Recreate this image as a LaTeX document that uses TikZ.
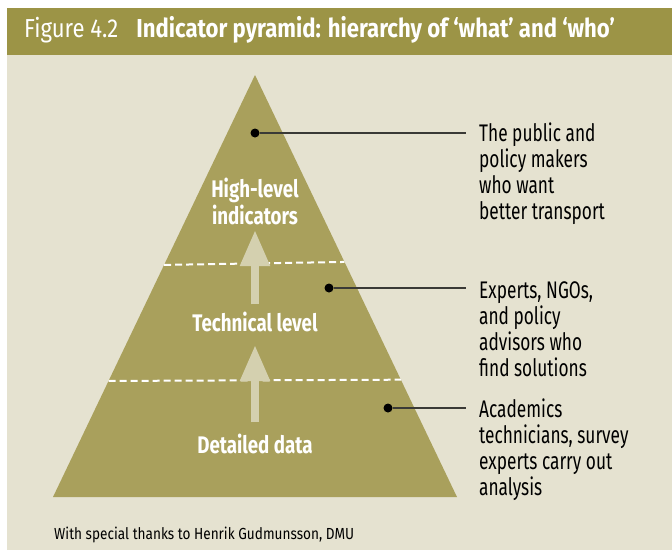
\documentclass[tikz,border=0pt]{standalone}
\usepackage{fontspec}
\setmainfont[FakeStretch=0.72]{Fira Sans}
\newfontfamily\levelfont[FakeStretch=0.78]{Fira Sans}
\newfontfamily\titlefont[FakeStretch=0.85]{Fira Sans}
\usetikzlibrary{arrows.meta,positioning,calc}
\definecolor{Olive}{HTML}{9C9446}
\definecolor{Sand}{HTML}{E5E2D0}
\definecolor{Pyramid}{HTML}{A9A05C}
\definecolor{Pale}{HTML}{D4D0AF}
\definecolor{Leader}{HTML}{3A3A36}
\tikzset{
  level/.style={
    font=\levelfont\fontsize{24}{27}\selectfont\bfseries,text=white,
    align=center,inner sep=0pt,anchor=base
  },
  who/.style={
    font=\fontsize{24}{26}\selectfont,text=black,
    align=left,inner sep=0pt,anchor=base west
  },
  spot/.style={circle,fill=black,inner sep=0pt,minimum size=9pt},
  leader/.style={draw=Leader,line width=1.8pt,shorten >=13pt},
  divide/.style={draw=white,line width=2pt,dash pattern=on 7pt off 4pt},
  rise/.style={-{Triangle[length=36pt,width=28pt]},draw=Pale,line width=8pt}
}

\begin{document}
\begin{tikzpicture}[x=1pt,y=-1pt]
  \useasboundingbox (0,0) rectangle (672,550);
  \fill[white] (0,0) rectangle (672,550);
  % header band and panel
  \fill[Olive] (7,8) rectangle (672,55);
  \fill[Sand] (7,55) rectangle (672,550);
  \node[inner sep=0pt,anchor=base west,text=white,font=\titlefont\fontsize{26}{28}\selectfont]
    (title) at (24,37) {Figure 4.2\hspace*{18pt}\textbf{Indicator pyramid: hierarchy of ‘what’ and ‘who’}};

  % pyramid
  \coordinate (apex) at (255,75);
  \coordinate (baseL) at (53,497);
  \coordinate (baseR) at (457,497);
  \fill[Pyramid] (apex) -- (baseR) -- (baseL) -- cycle;
  \draw[divide] ($(apex)!0.450!(baseL)$) -- ($(apex)!0.443!(baseR)$);
  \draw[divide] ($(apex)!0.725!(baseL)$) -- ($(apex)!0.722!(baseR)$);

  % levels (multi-line nodes sit on their last line)
  \node[level] (high) at (255,224) {High-level\\indicators};
  \node[level] (technical) at (255,331) {Technical level};
  \node[level] (detailed) at (255,453) {Detailed data};
  \draw[rise] ([yshift=11pt]detailed.north) -- ([yshift=-14pt]technical.base);
  \draw[rise] ([yshift=7pt]technical.north) -- ([yshift=-6pt]high.base);

  % who works at each level
  \node[spot] (dotPublic) at (255,133) {};
  \node[spot] (dotExperts) at (329,288) {};
  \node[spot] (dotAcademics) at (388,408) {};
  \node[who] (public) at (479,219) {The public and\\policy makers\\who want\\better transport};
  \node[who] (experts) at (479,376) {Experts, NGOs,\\and policy\\advisors who\\find solutions};
  \node[who] (academics) at (479,495) {Academics\\technicians, survey\\experts carry out\\analysis};
  \draw[leader] (dotPublic) -- (dotPublic -| public.west);
  \draw[leader] (dotExperts) -- (dotExperts -| experts.west);
  \draw[leader] (dotAcademics) -- (dotAcademics -| academics.west);

  \node[inner sep=0pt,anchor=base west,font=\titlefont\fontsize{16}{18}\selectfont]
    (thanks) at (54,539) {With special thanks to Henrik Gudmunsson, DMU};
\end{tikzpicture}
\end{document}
